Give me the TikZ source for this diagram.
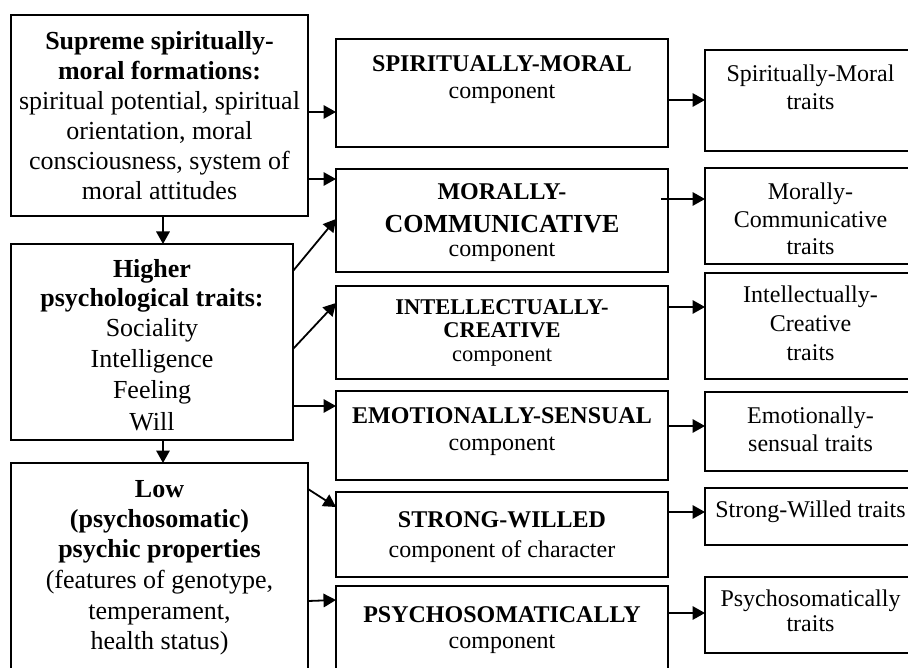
\documentclass[tikz,border=0pt]{standalone}
\usepackage{fontspec}
\setmainfont{Liberation Serif}
\usetikzlibrary{arrows.meta}
\begin{document}
\begin{tikzpicture}[x=1pt,y=-1pt,
  box/.style={draw, line width=1.8pt, inner sep=0pt, outer sep=0pt, anchor=north west},
  arr/.style={line width=1.8pt, -{Triangle[length=12.5pt,width=13.5pt]}},
  big/.style={anchor=base, inner sep=0pt, font=\fontsize{26}{30}\selectfont},
  bigb/.style={anchor=base, inner sep=0pt, font=\fontsize{26}{30}\selectfont\bfseries},
  mid/.style={anchor=base, inner sep=0pt, font=\fontsize{24}{28}\selectfont},
  midb/.style={anchor=base, inner sep=0pt, font=\fontsize{24}{28}\selectfont\bfseries},
  sml/.style={anchor=base, inner sep=0pt, font=\fontsize{22.5}{25}\selectfont},
  smlb/.style={anchor=base, inner sep=0pt, font=\fontsize{22.5}{25}\selectfont\bfseries}
]
\useasboundingbox (0,0) rectangle (908,668);
\clip (0,0) rectangle (908,668);
\fill[white] (0,0) rectangle (908,668);

% boxes
\node[box, minimum width=297pt, minimum height=201pt] (L1) at (11,15) {};
\node[box, minimum width=282pt, minimum height=196pt] (L2) at (11,244) {};
\node[box, minimum width=297pt, minimum height=220pt] (L3) at (11,463) {};
\node[box, minimum width=332pt, minimum height=108pt] (M1) at (336,39) {};
\node[box, minimum width=332pt, minimum height=103pt] (M2) at (336,169) {};
\node[box, minimum width=332pt, minimum height=93pt] (M3) at (336,286) {};
\node[box, minimum width=332pt, minimum height=89pt] (M4) at (336,391) {};
\node[box, minimum width=332pt, minimum height=85pt] (M5) at (336,492) {};
\node[box, minimum width=332pt, minimum height=100pt] (M6) at (336,586) {};
\node[box, minimum width=211pt, minimum height=101pt] (R1) at (705,50) {};
\node[box, minimum width=211pt, minimum height=96pt] (R2) at (705,168) {};
\node[box, minimum width=211pt, minimum height=106pt] (R3) at (705,273) {};
\node[box, minimum width=211pt, minimum height=79pt] (R4) at (705,392) {};
\node[box, minimum width=211pt, minimum height=57pt] (R5) at (705,488) {};
\node[box, minimum width=211pt, minimum height=76pt] (R6) at (705,577) {};

% left texts
\node[bigb] (L1a) at (159.5,50) {Supreme spiritually-};
\node[bigb] (L1b) at (159.5,80) {moral formations:};
\node[big] (L1c) at (159.5,110) {spiritual potential, spiritual};
\node[big] (L1d) at (159.5,140) {orientation, moral};
\node[big] (L1e) at (159.5,170) {consciousness, system of};
\node[big] (L1f) at (159.5,200) {moral attitudes};

\node[bigb] (L2a) at (152,278) {Higher};
\node[bigb] (L2b) at (152,307) {psychological traits:};
\node[big] (L2c) at (152,337) {Sociality};
\node[big] (L2d) at (152,368) {Intelligence};
\node[big] (L2e) at (152,399) {Feeling};
\node[big] (L2f) at (152,430) {Will};

\node[bigb] (L3a) at (159.5,497) {Low};
\node[bigb] (L3b) at (159.5,527) {(psychosomatic)};
\node[bigb] (L3c) at (159.5,557) {psychic properties};
\node[big] (L3d) at (159.5,588) {(features of genotype,};
\node[big] (L3e) at (159.5,619) {temperament,};
\node[big] (L3f) at (159.5,649) {health status)};

% middle texts
\node[midb] (M1a) at (502,72) {SPIRITUALLY-MORAL};
\node[mid] (M1b) at (502,99) {component};
\node[midb] (M2a) at (502,200) {MORALLY-};
\node[bigb] (M2b) at (502,233) {COMMUNICATIVE};
\node[mid] (M2c) at (502,257) {component};
\node[smlb] (M3a) at (502,315) {INTELLECTUALLY-};
\node[smlb] (M3b) at (502,338) {CREATIVE};
\node[sml] (M3c) at (502,362) {component};
\node[midb] (M4a) at (502,423) {EMOTIONALLY-SENSUAL};
\node[mid] (M4b) at (502,450) {component};
\node[midb] (M5a) at (502,527) {STRONG-WILLED};
\node[mid] (M5b) at (502,557) {component of character};
\node[midb] (M6a) at (502,622) {PSYCHOSOMATICALLY};
\node[mid] (M6b) at (502,648) {component};

% right texts
\node[mid] (R1a) at (810.5,82) {Spiritually-Moral};
\node[mid] (R1b) at (810.5,110) {traits};
\node[mid] (R2a) at (810.5,200) {Morally-};
\node[mid] (R2b) at (810.5,228) {Communicative};
\node[mid] (R2c) at (810.5,255) {traits};
\node[mid] (R3a) at (810.5,303) {Intellectually-};
\node[mid] (R3b) at (810.5,332) {Creative};
\node[mid] (R3c) at (810.5,360) {traits};
\node[mid] (R4a) at (810.5,424) {Emotionally-};
\node[mid] (R4b) at (810.5,451) {sensual traits};
\node[mid] (R5a) at (810.5,517) {Strong-Willed traits};
\node[mid] (R6a) at (810.5,606) {Psychosomatically};
\node[mid] (R6b) at (810.5,631) {traits};

% connectors left -> middle
\draw[arr] (L1.east |- 0,112) -- (M1.west |- 0,112);
\draw[arr] (L1.east |- 0,179) -- (M2.west |- 0,179);
\draw[arr] (163,0 |- L1.south) -- (163,0 |- L2.north);
\draw[arr] (L2.east |- 0,271) -- (M2.west |- 0,219);
\draw[arr] (L2.east |- 0,349) -- (M3.west |- 0,303);
\draw[arr] (L2.east |- 0,406) -- (M4.west |- 0,406);
\draw[arr] (163,0 |- L2.south) -- (163,0 |- L3.north);
\draw[arr] (L3.east |- 0,489) -- (M5.west |- 0,507);
\draw[arr] (L3.east |- 0,601) -- (M6.west |- 0,600);

% connectors middle -> right
\coordinate (m2s) at (661,199);
\draw[arr] (M1.east |- 0,100) -- (R1.west |- 0,100);
\draw[arr] (m2s) -- (R2.west |- m2s);
\draw[arr] (M3.east |- 0,307) -- (R3.west |- 0,307);
\draw[arr] (M4.east |- 0,426) -- (R4.west |- 0,426);
\draw[arr] (M5.east |- 0,512) -- (R5.west |- 0,512);
\draw[arr] (M6.east |- 0,613) -- (R6.west |- 0,613);
\end{tikzpicture}
\end{document}
